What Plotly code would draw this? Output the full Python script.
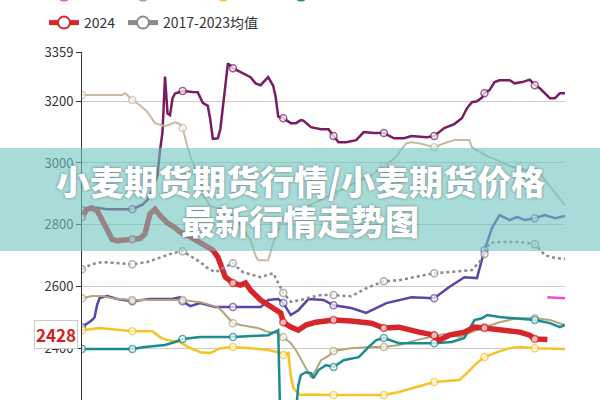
import plotly.graph_objects as go

# ---- data: x = trading-day index, values in 元/吨 ----
d2017 = [0,6,10,20,24,26,28,30,31,32,33,34,35,36,37,40,44,46,48,50,51,52,54,55,56,57,58,60,63,67,69,71,74,75,76,77,78,80,83,85,87,88,91,95,98,100,102,105,109,112,116,120,124,128,131,137,140,144,148,151,153,155,157,159,160,162,164,166,170,172,175,178,180,182,184,186,188,190,192]
v2017 = [2847,2855,2850,2850,2865,2880,2912,2960,3040,3100,3280,3160,3155,3210,3225,3233,3230,3229,3195,3185,3140,3078,3080,3110,3181,3260,3323,3307,3294,3278,3258,3252,3278,3265,3250,3213,3150,3145,3129,3129,3139,3137,3116,3109,3109,3087,3067,3067,3074,3100,3097,3097,3080,3080,3087,3083,3087,3113,3126,3145,3177,3197,3200,3212,3226,3236,3262,3268,3268,3258,3262,3270,3252,3242,3226,3210,3210,3226,3226]

d2018 = [0,4,5,6,7,10,14,20,27,36,39,40,43,47,53,60,71,74,78,80,83,86,90,96,100,107,113,121,126,131,140,146,152,157,160,163,166,170,173,176,180,184,188,192]
v2018 = [2468,2491,2500,2540,2562,2569,2559,2552,2559,2559,2565,2552,2536,2546,2533,2533,2533,2556,2559,2546,2507,2523,2559,2556,2539,2530,2514,2546,2556,2565,2562,2598,2630,2627,2718,2790,2831,2815,2825,2815,2821,2831,2821,2828]

d2019 = [0,8,16,17,18,20,23,26,29,33,37,39,40,42,44,46,48,51,55,60,63,67,69,70,74,76,79,80,87,95,100,107,115,120,125,127,129,131,134,140,144,148,154,155,161,166,170,180,182,185,192]
v2019 = [3220,3220,3220,3226,3220,3204,3187,3165,3129,3119,3132,3126,3113,3050,3000,2960,2900,2860,2850,2840,2800,2750,2700,2685,2685,2740,2800,2810,2850,2880,2900,2930,2960,2990,3020,3045,3064,3067,3064,3051,3064,3074,3074,3051,3022,3006,2990,2970,2966,2935,2863]

d2020 = [185,192]
v2020 = [2565,2562]

d2021 = [0,4,8,12,20,30,40,47,54,56,60,63,70,74,77,80,83,85,88,90,91,93,95,98,100,107,114,120,126,133,140,144,150,155,160,166,173,180,186,192]
v2021 = [2562,2569,2569,2562,2556,2556,2556,2549,2533,2517,2481,2475,2465,2452,2450,2436,2416,2394,2351,2322,2306,2330,2361,2375,2391,2400,2404,2404,2410,2426,2440,2446,2436,2452,2468,2484,2497,2497,2491,2475]

d2022 = [0,7,20,28,31,34,39,42,47,51,55,60,67,74,78,80,82,83,84,86,87,90,100,120,126,134,140,150,153,157,160,164,170,174,180,192]
v2022 = [2458,2465,2455,2455,2436,2426,2420,2404,2387,2384,2400,2404,2400,2394,2387,2378,2384,2310,2271,2253,2248,2250,2248,2248,2258,2275,2290,2297,2319,2352,2371,2384,2400,2404,2400,2397]

d2023 = [0,20,25,33,37,40,47,60,74,76,78,79,84,86,87,89,91,92,94,97,100,104,110,114,117,120,126,140,147,152,156,159,161,166,172,180,186,190,192]
v2023 = [2397,2397,2404,2410,2420,2430,2436,2436,2442,2450,2458,2100,2100,2280,2313,2322,2319,2303,2329,2345,2339,2361,2371,2404,2426,2433,2416,2416,2420,2433,2491,2497,2507,2501,2497,2491,2481,2468,2475]

d2024 = [0,2,4,6,8,10,12,14,17,20,23,25,27,29,31,34,37,39,42,44,47,50,52,54,57,60,63,65,67,71,75,79,80,83,86,89,93,100,107,115,120,126,134,140,142,146,152,156,160,166,174,178,180,185]
v2024 = [2825,2850,2854,2845,2815,2785,2752,2748,2752,2753,2755,2770,2835,2850,2830,2805,2790,2776,2765,2756,2740,2728,2718,2695,2630,2611,2604,2611,2588,2556,2533,2514,2484,2468,2458,2475,2484,2491,2488,2481,2465,2468,2452,2442,2426,2442,2452,2468,2465,2458,2452,2442,2430,2428]

d_avg = [0,4,8,14,20,26,32,36,40,47,50,53,56,60,64,71,76,79,80,83,87,91,95,100,107,113,120,126,140,155,158,160,162,166,174,180,184,188,192]
v_avg = [2656,2672,2679,2676,2672,2679,2695,2708,2714,2679,2659,2646,2659,2675,2646,2630,2643,2597,2579,2550,2556,2565,2572,2572,2568,2594,2617,2620,2643,2653,2679,2705,2740,2744,2744,2737,2701,2692,2690]

y_ticks = [2400, 2600, 2800, 3000, 3200, 3359]
title_lines = ["小麦期货期货行情/小麦期货价格", "最新行情走势图"]

# name, x, y, colour, width, dash, legend-slot (column px, row px)
series = [
    ("2017", d2017, v2017, "#7a1c63", 2.5, "solid", None),
    ("2018", d2018, v2018, "#5a45a8", 2.5, "solid", None),
    ("2019", d2019, v2019, "#c9baa3", 2, "solid", None),
    ("2020", d2020, v2020, "#e94fd0", 2.5, "solid", (38, -7.5)),
    ("2021", d2021, v2021, "#b3a57a", 2, "solid", (117, -7.5)),
    ("2022", d2022, v2022, "#f5c324", 2.5, "solid", (197, -7.5)),
    ("2023", d2023, v2023, "#1b8b8f", 2.5, "solid", (275, -7.5)),
    ("2024", d2024, v2024, "#d7262a", 5.5, "solid", (38, 20.5)),
    ("2017-2023均值", d_avg, v_avg, "#8a8a8a", 2.5, "dot", (117, 20.5)),
]

def py(p):  # pixel row -> paper y
    return 1 - (p - 52) / 348.0

def px(p):  # pixel col -> paper x
    return (p - 82) / 483.0

fig = go.Figure()
for name, xs, ys, color, w, dash, lg in series:
    sizes = [7 if (x % 20 == 0 and x <= 180) else 0 for x in xs]
    fig.add_trace(go.Scatter(
        x=xs, y=ys, mode="lines+markers", name=name, showlegend=False,
        line=dict(color=color, width=w, dash=dash),
        marker=dict(size=sizes, color="white", line=dict(color=color, width=1.5)),
        hoverinfo="skip"))

legend_layouts = {}
k = 0
for name, xs, ys, color, w, dash, lg in series:
    if lg is None:
        continue
    k += 1
    key = "legend" if k == 1 else "legend%d" % k
    fig.add_trace(go.Scatter(
        x=[None], y=[None], mode="lines+markers", name=name, legend=key,
        line=dict(color=color, width=1.5),
        marker=dict(size=12, color="white", line=dict(color=color, width=1.5))))
    legend_layouts[key] = dict(
        x=px(lg[0] + 6), y=py(lg[1] + 2.5), xanchor="left", yanchor="middle",
        orientation="h", itemsizing="constant", bgcolor="rgba(0,0,0,0)",
        font=dict(family="Noto Sans CJK SC", size=14, color="#333"))

fig.update_layout(
    width=600, height=400,
    margin=dict(l=82, r=35, t=52, b=0, autoexpand=False),
    plot_bgcolor="white", paper_bgcolor="white",
    xaxis=dict(range=[0, 192], visible=False, showgrid=False, zeroline=False),
    yaxis=dict(range=[2232, 3359.5], tickvals=y_ticks, ticktext=[str(t) for t in y_ticks],
               showgrid=True, gridcolor="#cccccc", gridwidth=1, zeroline=False,
               showline=True, linecolor="#333", linewidth=1,
               ticks="outside", ticklen=5, tickcolor="#333",
               tickfont=dict(family="Noto Sans CJK SC", size=13, color="#333")),
    shapes=[dict(type="rect", xref="paper", yref="paper", x0=px(-5), x1=px(605),
                 y0=py(251), y1=py(148), fillcolor="rgba(110,197,192,0.6)",
                 line=dict(width=0), layer="above")],
    **legend_layouts,
)

title_font = dict(family="Noto Sans CJK SC", size=34, color="white", weight=900,
                  shadow="0px 0px 3px rgba(0,0,0,0.45)")
fig.add_annotation(xref="paper", yref="paper", x=px(300), y=py(180), text=title_lines[0],
                   showarrow=False, xanchor="center", yanchor="middle", font=title_font)
fig.add_annotation(xref="paper", yref="paper", x=px(300), y=py(220), text=title_lines[1],
                   showarrow=False, xanchor="center", yanchor="middle", font=title_font)
fig.add_annotation(xref="paper", yref="y", x=px(78), y=v2024[-1], text=str(v2024[-1]),
                   showarrow=False, xanchor="right", yanchor="middle", yshift=5,
                   bgcolor="white", bordercolor="#cccccc", borderwidth=1, borderpad=1,
                   font=dict(family="Noto Sans CJK SC", size=17, color="#d42020", weight="bold"))

fig.write_html("out.html", config={"displayModeBar": False},
               post_script="document.body.style.margin='0px';")
